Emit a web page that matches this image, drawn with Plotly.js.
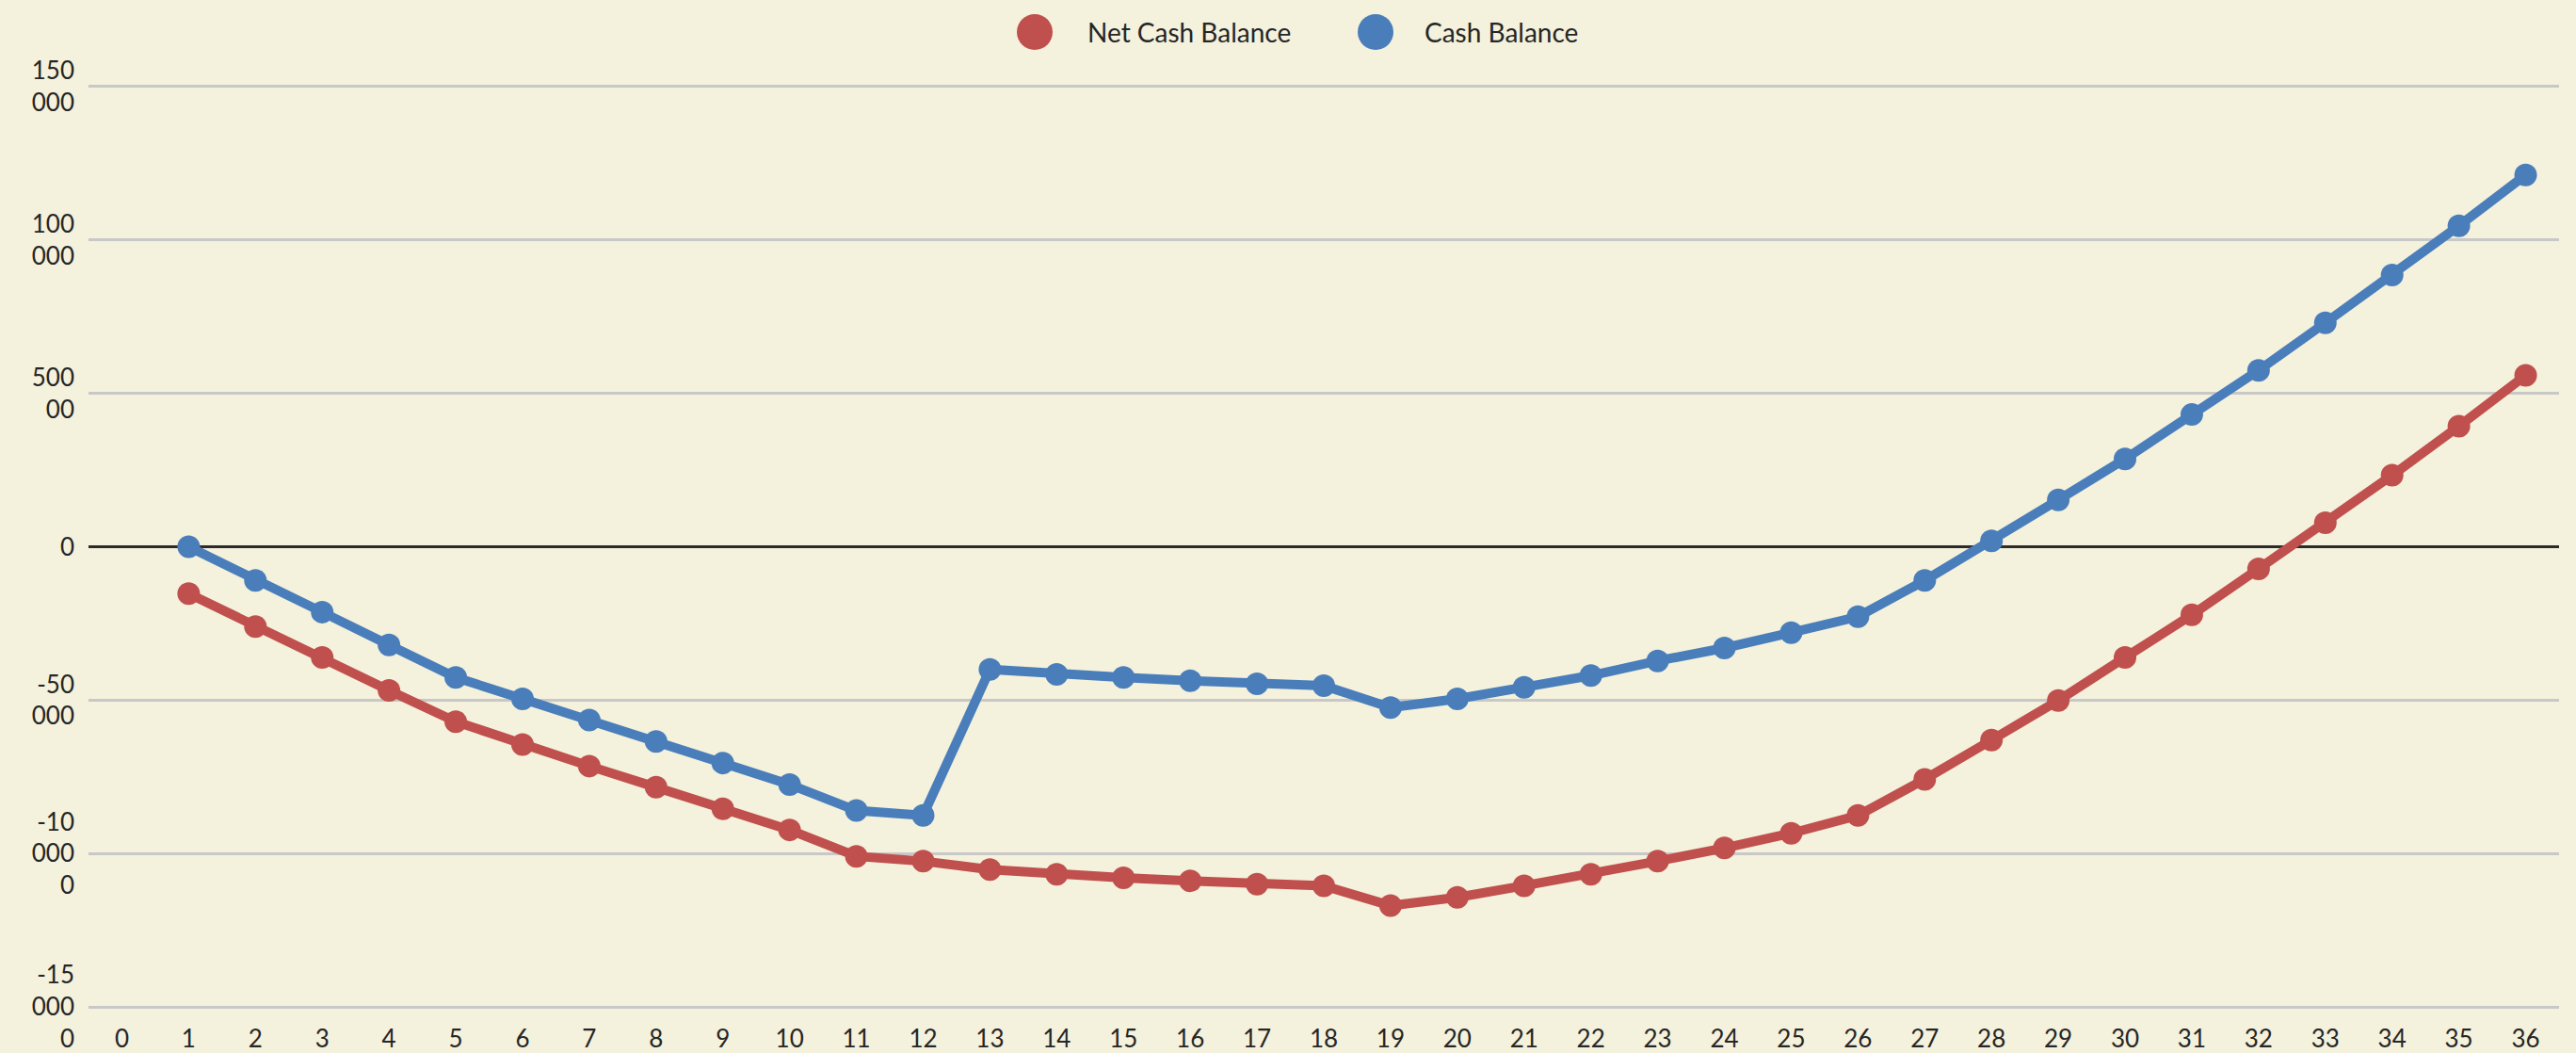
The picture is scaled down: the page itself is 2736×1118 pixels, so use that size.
<!DOCTYPE html>
<html>
<head>
<meta charset="utf-8">
<script src="https://cdn.plot.ly/plotly-3.0.1.min.js"></script>
<style>
  html, body { margin: 0; padding: 0; background: #f4f1dc; }
  #chart { width: 2736px; height: 1118px; }
</style>
</head>
<body>
<div id="chart"></div>
<script>
// ---- data ----
const months = [1,2,3,4,5,6,7,8,9,10,11,12,13,14,15,16,17,18,19,20,21,22,23,24,25,26,27,28,29,30,31,32,33,34,35,36];
const netCashBalance = [-15300,-26000,-36100,-46800,-57000,-64500,-71500,-78400,-85400,-92300,-100900,-102500,-105200,-106800,-107900,-108900,-110000,-110500,-117000,-114300,-110500,-106800,-102500,-98200,-93400,-87600,-75800,-63000,-50100,-36100,-22200,-7200,7800,23300,39300,55900];
const cashBalance = [0,-11000,-21300,-32000,-42600,-49600,-56500,-63500,-70500,-77500,-86000,-87600,-40000,-41600,-42600,-43700,-44700,-45300,-52400,-49600,-45800,-42000,-37200,-33000,-28000,-22800,-11000,1900,15300,28600,43100,57500,73000,88600,104600,121200];
const xTickVals = [0,1,2,3,4,5,6,7,8,9,10,11,12,13,14,15,16,17,18,19,20,21,22,23,24,25,26,27,28,29,30,31,32,33,34,35,36];
const xTickText = ['0','1','2','3','4','5','6','7','8','9','10','11','12','13','14','15','16','17','18','19','20','21','22','23','24','25','26','27','28','29','30','31','32','33','34','35','36'];
const yTickVals = [-150000,-100000,-50000,0,50000,100000,150000];
const yTickText = ['-15<br>000<br>0','-10<br>000<br>0','-50<br>000','0','500<br>00','100<br>000','150<br>000'];
const seriesNames = ['Net Cash Balance','Cash Balance'];
const seriesColors = ['#c0504d','#4a7ebb'];

// ---- chart ----
const FONT = 'Lato, "Open Sans", sans-serif';
const traces = [
  {
    x: months, y: netCashBalance, name: seriesNames[0], type: 'scatter', mode: 'lines+markers',
    line: {color: seriesColors[0], width: 10}, marker: {color: seriesColors[0], size: 24}
  },
  {
    x: months, y: cashBalance, name: seriesNames[1], type: 'scatter', mode: 'lines+markers',
    line: {color: seriesColors[1], width: 10}, marker: {color: seriesColors[1], size: 24}
  }
];

// custom legend (large circular markers)
const legendY = 1.056;
const legendItems = [
  {cx: (1099 - 94) / 2624, tx: (1153 - 94) / 2624},
  {cx: (1461 - 94) / 2624, tx: (1511 - 94) / 2624}
];
const shapes = legendItems.map((it, i) => ({
  type: 'circle', xref: 'paper', yref: 'paper',
  xsizemode: 'pixel', ysizemode: 'pixel',
  xanchor: it.cx, yanchor: legendY,
  x0: -19, x1: 19, y0: -19, y1: 19,
  fillcolor: seriesColors[i], line: {width: 0}
}));
const annotations = legendItems.map((it, i) => ({
  xref: 'paper', yref: 'paper', x: it.tx, y: legendY,
  xanchor: 'left', yanchor: 'middle', showarrow: false,
  text: seriesNames[i], font: {family: FONT, size: 28, color: '#262626'}
}));

const layout = {
  width: 2736, height: 1118,
  margin: {l: 94, r: 18, t: 89, b: 46},
  paper_bgcolor: '#f4f1dc', plot_bgcolor: '#f4f1dc',
  showlegend: false,
  font: {family: FONT, size: 26, color: '#262626'},
  xaxis: {
    type: 'linear', range: [-0.5, 36.5],
    tickmode: 'array', tickvals: xTickVals, ticktext: xTickText,
    showgrid: false, zeroline: false, showline: false, ticks: '',
    ticklabelstandoff: 13,
    tickfont: {family: FONT, size: 26, color: '#262626'}
  },
  yaxis: {
    range: [-150900, 150900],
    tickmode: 'array', tickvals: yTickVals, ticktext: yTickText,
    showgrid: true, gridcolor: '#c8c8c8', gridwidth: 3,
    zeroline: true, zerolinecolor: '#2b2b2b', zerolinewidth: 3,
    showline: false, ticks: '',
    ticklabelstandoff: 14,
    tickfont: {family: FONT, size: 26, color: '#262626'}
  },
  shapes: shapes,
  annotations: annotations
};

Plotly.newPlot('chart', traces, layout, {displayModeBar: false, staticPlot: true});
</script>
</body>
</html>
